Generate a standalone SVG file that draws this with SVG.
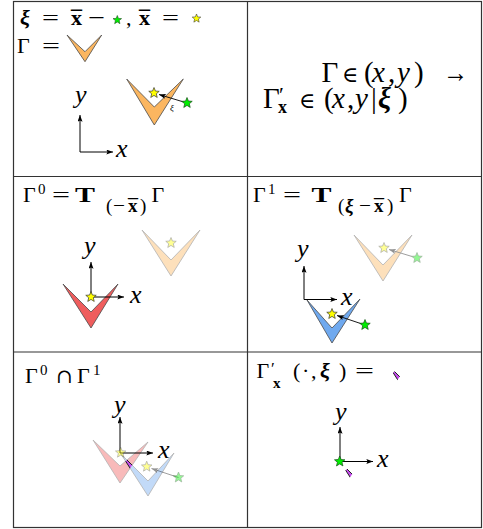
<svg xmlns="http://www.w3.org/2000/svg" xmlns:xlink="http://www.w3.org/1999/xlink" width="483" height="529" viewBox="0 0 483 529">
<style>
text{font-family:"Liberation Serif","Times New Roman",serif;fill:#000}
.lab{font-size:22px}
.big{font-size:29px}
.ax{font-size:26px;font-style:italic}
.it{font-style:italic}
.bf{font-weight:bold}
.bi{font-weight:bold;font-style:italic}
.sym{font-family:"DejaVu Serif",serif}
.grid{fill:none;stroke:#333;stroke-width:1.2}
.axis{stroke:#000;stroke-width:1;fill:none;marker-end:url(#ah)}
.vec{stroke:#000;stroke-width:0.9;fill:none;marker-end:url(#ah)}
.or{fill:#fbb660;stroke:#4a4a4a;stroke-width:0.8}
.rd{fill:#ef5d5d;stroke:#4a4a4a;stroke-width:0.8}
.bl{fill:#6fa9ef;stroke:#4a4a4a;stroke-width:0.8}
.mg{fill:#c84ef0;stroke:#222;stroke-width:1}
.ys{fill:#ffff00;stroke:#333;stroke-width:0.7}
.gs{fill:#00ee00;stroke:#1a4a1a;stroke-width:0.7}
.fade{opacity:0.42}
</style>
<defs>
<marker id="ah" viewBox="0 0 8 6" refX="8" refY="3" markerWidth="7" markerHeight="5" markerUnits="userSpaceOnUse" orient="auto">
<path d="M0,0 L8,3 L0,6 L1.5,3 Z" fill="#000"/>
</marker>
<path id="star" d="M0,-5.5 L1.42,-1.96 L5.23,-1.7 L2.3,0.75 L3.23,4.45 L0,2.42 L-3.23,4.45 L-2.3,0.75 L-5.23,-1.7 L-1.42,-1.96 Z"/>
<clipPath id="pinkclip"><polygon points="93,440 120,483 148,442 120,466"/></clipPath>
<g id="inter"><polygon class="mg" points="121,454 148,496 174,453 148,481" clip-path="url(#pinkclip)"/></g>
</defs>

<g id="grid">
<rect class="grid" x="13.5" y="1.5" width="468" height="526"/>
<line class="grid" x1="247.5" y1="1.5" x2="247.5" y2="527.5"/>
<line class="grid" x1="13.5" y1="176.5" x2="481.5" y2="176.5"/>
<line class="grid" x1="13.5" y1="352" x2="481.5" y2="352"/>
</g>

<!-- Panel 1 -->
<g id="panel-definition">
<text class="lab"><tspan class="bi" x="20" y="25">ξ</tspan><tspan x="42" y="25" textLength="17" lengthAdjust="spacingAndGlyphs">=</tspan><tspan class="bf" x="71" y="25">x</tspan><tspan class="bf" x="71" y="25" textLength="11" lengthAdjust="spacingAndGlyphs">¯</tspan><tspan x="88" y="25" textLength="17" lengthAdjust="spacingAndGlyphs">−</tspan><tspan x="126" y="25">,</tspan><tspan class="bf" x="139" y="25">x</tspan><tspan class="bf" x="139" y="25" textLength="11" lengthAdjust="spacingAndGlyphs">¯</tspan><tspan x="162" y="25" textLength="17" lengthAdjust="spacingAndGlyphs">=</tspan></text>
<use xlink:href="#star" class="gs" transform="translate(117.3,20) scale(0.82)"/>
<use xlink:href="#star" class="ys" transform="translate(196.5,18.5) scale(0.82)"/>
<text class="lab"><tspan x="17" y="53">Γ</tspan><tspan x="42" y="53" textLength="18" lengthAdjust="spacingAndGlyphs">=</tspan></text>
<polygon class="or" points="67,35 85,61.7 101.7,35 85,51.7"/>
<polygon class="or" points="126.7,79 154.3,125 183.3,79 154.3,107"/>
</g>
<g id="panel1-connectors">
<line class="axis" x1="80" y1="152" x2="80" y2="115"/>
<line class="axis" x1="80" y1="152" x2="113" y2="152"/>
<line class="vec" x1="187" y1="103" x2="159" y2="94.5"/>
</g>
<g id="panel1-stars">
<use xlink:href="#star" class="ys" transform="translate(154,93)"/>
<use xlink:href="#star" class="gs" transform="translate(187,103)"/>
<text class="it" x="170" y="111" font-size="9">ξ</text>
<text class="ax" x="75" y="103">y</text>
<text class="ax" x="116" y="156.5">x</text>
</g>

<!-- Panel 2 -->
<g id="panel-mapping">
<text class="big"><tspan x="321.5" y="81.7">Γ</tspan><tspan class="sym" x="342" y="81.7" font-size="22">∈</tspan><tspan x="364" y="81.7">(</tspan><tspan class="it" x="372" y="81.7">x</tspan><tspan x="388" y="81.7">,</tspan><tspan class="it" x="397" y="81.7">y</tspan><tspan x="414" y="81.7">)</tspan><tspan x="443" y="81.7" textLength="25" lengthAdjust="spacingAndGlyphs">→</tspan></text>
<text class="big"><tspan x="263" y="108">Γ</tspan><tspan x="279" y="102" font-size="22">′</tspan><tspan class="bf" x="278" y="113" font-size="18">x</tspan><tspan class="sym" x="299" y="108" font-size="22">∈</tspan><tspan x="324" y="108">(</tspan><tspan class="it" x="332" y="108">x</tspan><tspan x="347" y="108">,</tspan><tspan class="it" x="355" y="108">y</tspan><tspan x="371" y="108">|</tspan><tspan class="bi" x="378" y="108">ξ</tspan><tspan x="398" y="108">)</tspan></text>
</g>

<!-- Panel 3 -->
<g id="panel-gamma0">
<text class="lab"><tspan x="23" y="201.7">Γ</tspan><tspan x="38" y="194" font-size="15">0</tspan><tspan x="52" y="201.7" textLength="18" lengthAdjust="spacingAndGlyphs">=</tspan><tspan class="bf" x="75" y="201.7" textLength="20" lengthAdjust="spacingAndGlyphs">T</tspan><tspan x="106" y="211.5" font-size="19">(</tspan><tspan x="113" y="211.5" font-size="19" textLength="12" lengthAdjust="spacingAndGlyphs">−</tspan><tspan class="bf" x="128" y="211.5" font-size="19">x</tspan><tspan class="bf" x="128" y="211.5" font-size="19" textLength="10" lengthAdjust="spacingAndGlyphs">¯</tspan><tspan x="140" y="211.5" font-size="19">)</tspan><tspan x="151.5" y="201.7">Γ</tspan></text>
<g class="fade">
<polygon class="or" points="142,230 171,276 200,230 171,260"/>
<use xlink:href="#star" class="ys" transform="translate(171,243)"/>
</g>
<polygon class="rd" points="63,284 91,328 118,284 91,312"/>
</g>
<g id="panel3-connectors">
<line class="axis" x1="91" y1="297" x2="91" y2="262"/>
<line class="axis" x1="91" y1="297" x2="124" y2="297"/>
</g>
<g id="panel3-labels">
<use xlink:href="#star" class="ys" transform="translate(91,297)"/>
<text class="ax" x="84" y="253.5">y</text>
<text class="ax" x="130" y="303">x</text>
</g>

<!-- Panel 4 -->
<g id="panel-gamma1">
<text class="lab"><tspan x="253" y="201.7">Γ</tspan><tspan x="268" y="194" font-size="15">1</tspan><tspan x="283" y="201.7" textLength="18" lengthAdjust="spacingAndGlyphs">=</tspan><tspan class="bf" x="311.5" y="201.7" textLength="20" lengthAdjust="spacingAndGlyphs">T</tspan><tspan x="338" y="211.5" font-size="19">(</tspan><tspan class="bi" x="345" y="211.5" font-size="19">ξ</tspan><tspan x="359" y="211.5" font-size="19" textLength="12" lengthAdjust="spacingAndGlyphs">−</tspan><tspan class="bf" x="374" y="211.5" font-size="19">x</tspan><tspan class="bf" x="374" y="211.5" font-size="19" textLength="10" lengthAdjust="spacingAndGlyphs">¯</tspan><tspan x="387" y="211.5" font-size="19">)</tspan><tspan x="399" y="201.7">Γ</tspan></text>
<g class="fade">
<polygon class="or" points="354,235 383,281 412,235 383,265"/>
<line class="vec" x1="417" y1="258" x2="389" y2="249.5"/>
<use xlink:href="#star" class="ys" transform="translate(384,248)"/>
<use xlink:href="#star" class="gs" transform="translate(417,258)"/>
</g>
<polygon class="bl" points="307,300 332,343 360,299 332,328"/>
</g>
<g id="panel4-connectors">
<line class="axis" x1="304" y1="299.5" x2="304" y2="266"/>
<line class="axis" x1="304" y1="299.5" x2="337" y2="299.5"/>
<line class="vec" x1="365" y1="325" x2="337" y2="315.5"/>
</g>
<g id="panel4-labels">
<use xlink:href="#star" class="ys" transform="translate(332,314)"/>
<use xlink:href="#star" class="gs" transform="translate(365,325)"/>
<text class="ax" x="297" y="257">y</text>
<text class="ax" x="341" y="305">x</text>
</g>

<!-- Panel 5 -->
<g id="panel-intersection">
<text class="lab"><tspan x="25" y="383">Γ</tspan><tspan x="40" y="374.5" font-size="15">0</tspan><tspan class="sym" x="56" y="383" font-size="20">∩</tspan><tspan x="77" y="383">Γ</tspan><tspan x="93" y="374.5" font-size="15">1</tspan></text>
<g class="fade">
<polygon class="rd" points="93,440 120,483 148,442 120,466"/>
<polygon class="bl" points="121,454 148,496 174,453 148,481"/>
</g>
<use xlink:href="#inter"/>
</g>
<g id="panel5-connectors">
<line class="axis" x1="120" y1="453" x2="120" y2="417"/>
<line class="axis" x1="120" y1="453" x2="153" y2="453"/>
<g class="fade"><line class="vec" x1="178.5" y1="477.5" x2="151.5" y2="468.5"/></g>
</g>
<g id="panel5-labels">
<g class="fade">
<use xlink:href="#star" class="ys" transform="translate(120.7,452.7)"/>
<use xlink:href="#star" class="ys" transform="translate(146.7,466.7)"/>
<use xlink:href="#star" class="gs" transform="translate(178.5,477.5)"/>
</g>
<text class="ax" x="114" y="413">y</text>
<text class="ax" x="158" y="458">x</text>
</g>

<!-- Panel 6 -->
<g id="panel-result">
<text class="lab"><tspan x="256.5" y="378">Γ</tspan><tspan x="271" y="374" font-size="17">′</tspan><tspan class="bf" x="273" y="388" font-size="15">x</tspan><tspan x="293" y="378">(</tspan><tspan x="302" y="378">·</tspan><tspan x="311" y="378">,</tspan><tspan class="bi" x="320" y="378">ξ</tspan><tspan x="339" y="378">)</tspan><tspan x="355" y="378" textLength="19" lengthAdjust="spacingAndGlyphs">=</tspan></text>
<use xlink:href="#inter" transform="translate(267.5,-88.5)"/>
<use xlink:href="#inter" transform="translate(220,9)"/>
</g>
<g id="panel6-connectors">
<line class="axis" x1="340" y1="461.5" x2="340" y2="427"/>
<line class="axis" x1="340" y1="461.5" x2="373" y2="461.5"/>
</g>
<g id="panel6-labels">
<use xlink:href="#star" class="gs" transform="translate(339.7,461.5)"/>
<text class="ax" x="335" y="420">y</text>
<text class="ax" x="377" y="467">x</text>
</g>
</svg>
